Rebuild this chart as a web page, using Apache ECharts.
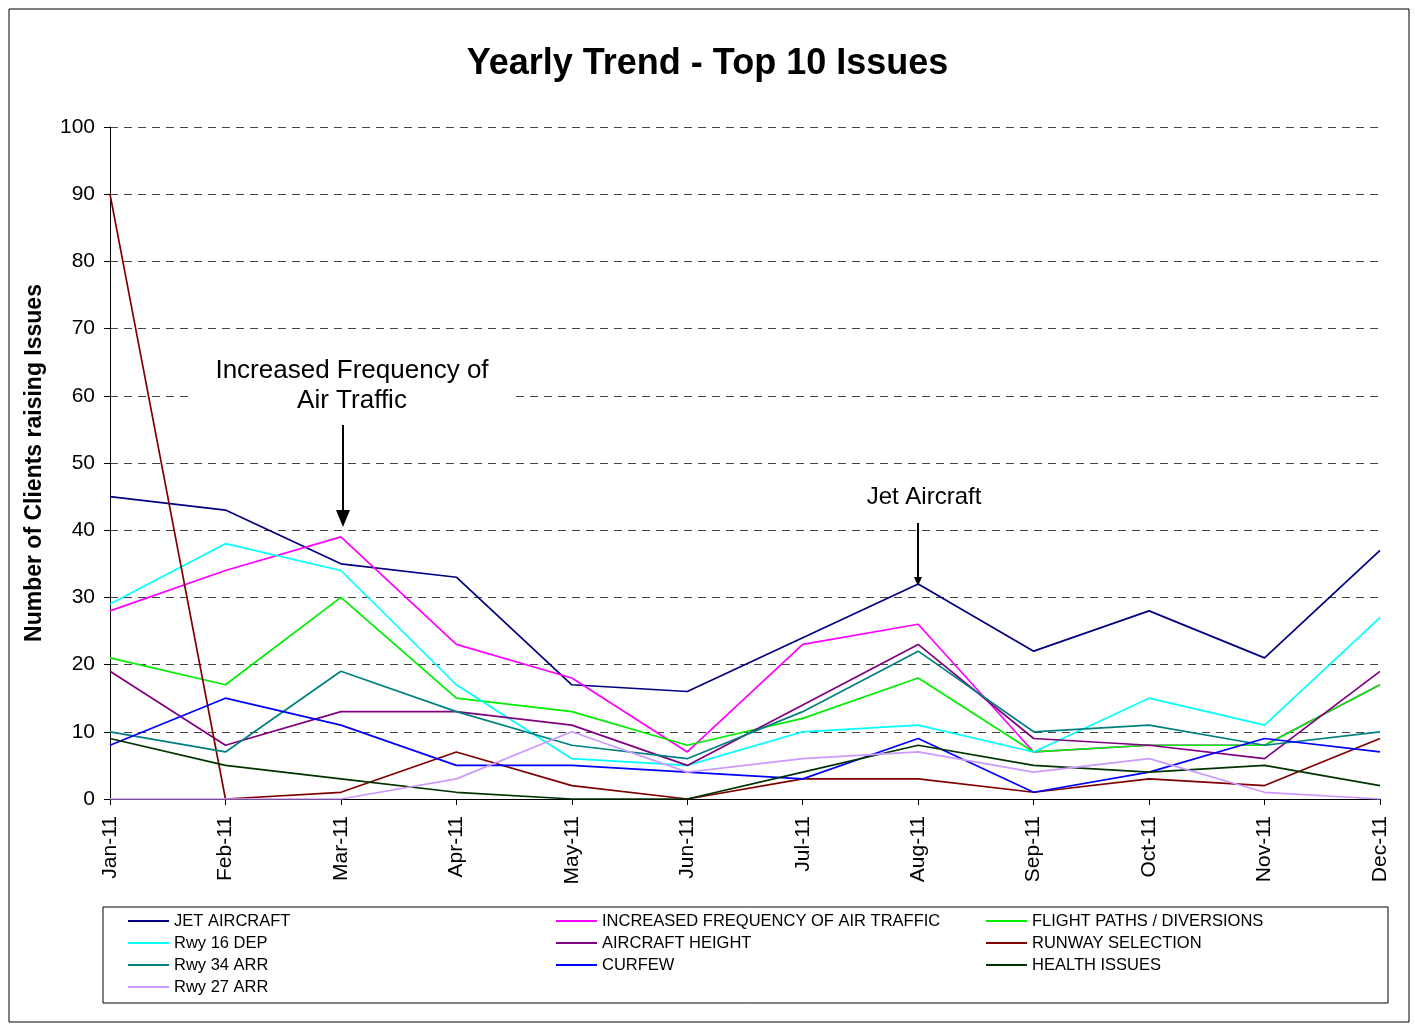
<!DOCTYPE html>
<html>
<head>
<meta charset="utf-8">
<script src="https://cdn.jsdelivr.net/npm/echarts@6/dist/echarts.min.js"></script>
<style>
  html, body { margin: 0; padding: 0; background: #fff; }
  #chart { width: 1415px; height: 1025px; }
</style>
</head>
<body>
<div id="chart"></div>
<script>
const months = ['Jan-11', 'Feb-11', 'Mar-11', 'Apr-11', 'May-11', 'Jun-11',
  'Jul-11', 'Aug-11', 'Sep-11', 'Oct-11', 'Nov-11', 'Dec-11'];

// values, Jan..Dec
const jetAircraft     = [45, 43, 35, 33, 17, 16, 24, 32, 22, 28, 21, 37];
const increasedFreq   = [28, 34, 39, 23, 18, 7, 23, 26, 7, 8, 8, 17];
const flightPaths     = [21, 17, 30, 15, 13, 8, 12, 18, 7, 8, 8, 17];
const rwy16Dep        = [29, 38, 34, 17, 6, 5, 10, 11, 7, 15, 11, 27];
const aircraftHeight  = [19, 8, 13, 13, 11, 5, 14, 23, 9, 8, 6, 19];
const runwaySelection = [90, 0, 1, 7, 2, 0, 3, 3, 1, 3, 2, 9];
const rwy34Arr        = [10, 7, 19, 13, 8, 6, 13, 22, 10, 11, 8, 10];
const curfew          = [8, 15, 11, 5, 5, 4, 3, 9, 1, 4, 9, 7];
const healthIssues    = [9, 5, 3, 1, 0, 0, 4, 8, 5, 4, 5, 2];
const rwy27Arr        = [0, 0, 0, 3, 10, 4, 6, 7, 4, 6, 1, 0];

const seriesDefs = [
  ['JET AIRCRAFT', jetAircraft, '#000080'],
  ['INCREASED FREQUENCY OF AIR TRAFFIC', increasedFreq, '#ff00ff'],
  ['FLIGHT PATHS / DIVERSIONS', flightPaths, '#00ee00'],
  ['Rwy 16 DEP', rwy16Dep, '#00ffff'],
  ['AIRCRAFT HEIGHT', aircraftHeight, '#800080'],
  ['RUNWAY SELECTION', runwaySelection, '#800000'],
  ['Rwy 34 ARR', rwy34Arr, '#008080'],
  ['CURFEW', curfew, '#0000ff'],
  ['HEALTH ISSUES', healthIssues, '#003300'],
  ['Rwy 27 ARR', rwy27Arr, '#cc99ff']
];

const FONT = '"Liberation Sans", Arial, sans-serif';

function legendCol(left, names) {
  return {
    left, top: 910, orient: 'vertical', padding: 0,
    itemWidth: 41, itemHeight: 14, itemGap: 0,
    selectedMode: false,
    itemStyle: { opacity: 0 },
    lineStyle: { width: 2 },
    textStyle: { fontFamily: FONT, fontSize: 16.5, color: '#000', lineHeight: 22 },
    data: names
  };
}

const chart = echarts.init(document.getElementById('chart'));

chart.setOption({
  backgroundColor: '#fff',
  animation: false,
  title: {
    text: 'Yearly Trend - Top 10 Issues',
    left: 'center', top: 41,
    textStyle: { fontFamily: FONT, fontSize: 36, fontWeight: 'bold', color: '#000' }
  },
  grid: { left: 110, right: 35, top: 127, bottom: 226 },
  legend: [
    legendCol(127, ['JET AIRCRAFT', 'Rwy 16 DEP', 'Rwy 34 ARR', 'Rwy 27 ARR']),
    legendCol(555, ['INCREASED FREQUENCY OF AIR TRAFFIC', 'AIRCRAFT HEIGHT', 'CURFEW']),
    legendCol(985, ['FLIGHT PATHS / DIVERSIONS', 'RUNWAY SELECTION', 'HEALTH ISSUES'])
  ],
  xAxis: {
    type: 'category',
    data: months,
    boundaryGap: false,
    axisLine: { lineStyle: { color: '#000', width: 1 } },
    axisTick: { show: true, length: 6, lineStyle: { color: '#000' } },
    axisLabel: { rotate: 90, margin: 17, fontFamily: FONT, fontSize: 21, color: '#000' }
  },
  yAxis: {
    type: 'value',
    min: 0, max: 100, interval: 10,
    name: 'Number of Clients raising Issues',
    nameLocation: 'middle', nameRotate: 90, nameGap: 64,
    nameTextStyle: { fontFamily: FONT, fontSize: 23, fontWeight: 'bold', color: '#000' },
    axisLine: { show: true, lineStyle: { color: '#000', width: 1 } },
    axisTick: { show: true, length: 6, lineStyle: { color: '#000' } },
    axisLabel: { margin: 15, fontFamily: FONT, fontSize: 21, color: '#000' },
    splitLine: { lineStyle: { color: '#444', type: [8, 6], width: 1 } }
  },
  series: seriesDefs.map(([name, values, color]) => ({
    name, type: 'line', data: values,
    symbol: 'none', color,
    lineStyle: { color, width: 1.7 }
  })),
  graphic: [
    { type: 'rect', shape: { x: 9, y: 9, width: 1400, height: 1013 },
      style: { fill: 'none', stroke: '#000', lineWidth: 1 }, z: 0 },
    { type: 'rect', shape: { x: 103, y: 907, width: 1285, height: 96 },
      style: { fill: 'none', stroke: '#000', lineWidth: 1 } },
    // annotation: Increased Frequency
    { type: 'rect', shape: { x: 190, y: 352, width: 325, height: 62 },
      style: { fill: '#fff' }, z: 50 },
    { type: 'text', x: 352, y: 386, z: 51,
      style: { text: 'Increased Frequency of\nAir Traffic', fontFamily: FONT, fontSize: 26,
        lineHeight: 30, fill: '#000', align: 'center', verticalAlign: 'middle' } },
    { type: 'line', shape: { x1: 343, y1: 425, x2: 343, y2: 512 },
      style: { stroke: '#000', lineWidth: 2 }, z: 51 },
    { type: 'polygon', shape: { points: [[336, 510], [350, 510], [343, 527]] },
      style: { fill: '#000' }, z: 51 },
    // annotation: Jet Aircraft
    { type: 'text', x: 924, y: 497, z: 51,
      style: { text: 'Jet Aircraft', fontFamily: FONT, fontSize: 24, fill: '#000',
        align: 'center', verticalAlign: 'middle' } },
    { type: 'line', shape: { x1: 918, y1: 523, x2: 918, y2: 578 },
      style: { stroke: '#000', lineWidth: 2 }, z: 51 },
    { type: 'polygon', shape: { points: [[914, 577], [922, 577], [918, 586]] },
      style: { fill: '#000' }, z: 51 }
  ]
});

window.addEventListener('resize', () => chart.resize());
</script>
</body>
</html>
